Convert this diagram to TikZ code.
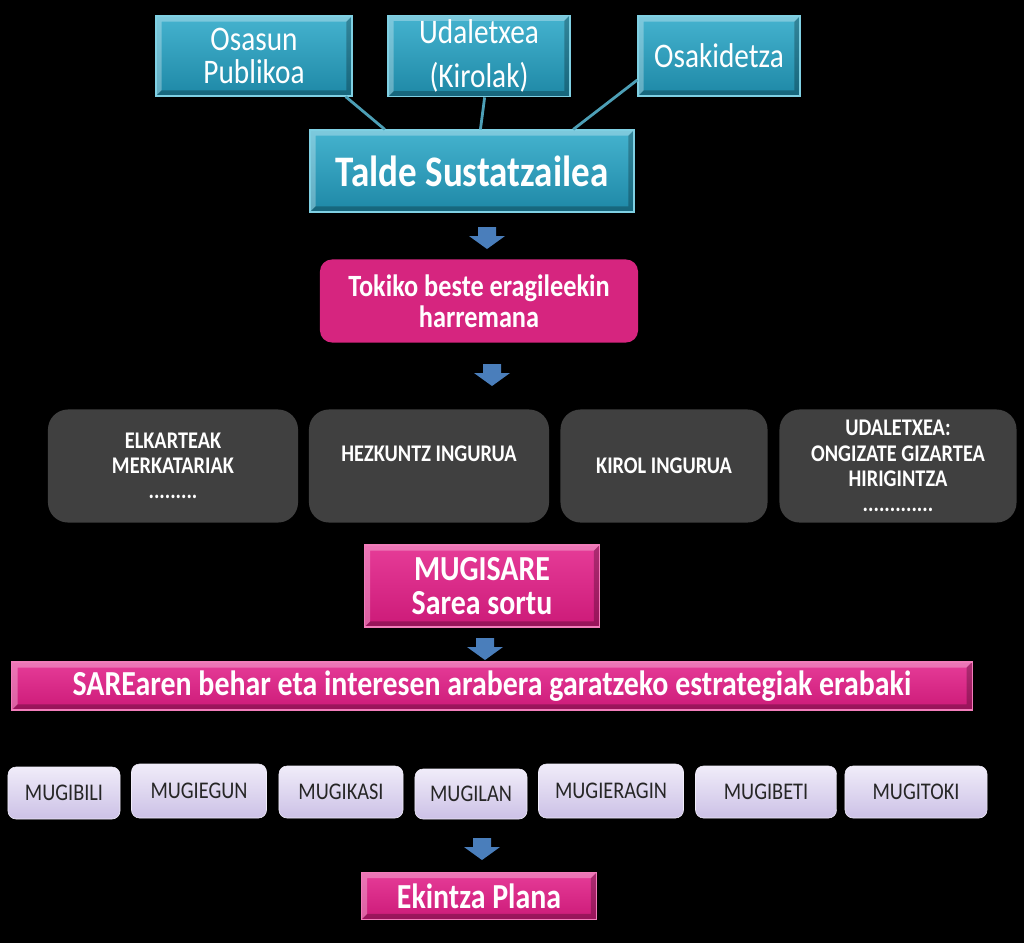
\documentclass[tikz,border=0pt]{standalone}
\usepackage{fontspec}
\setmainfont[FakeStretch=0.85]{Carlito}
\usepackage{xcolor}
\usetikzlibrary{positioning}
\usetikzlibrary{calc}

\definecolor{tealtop}{HTML}{45B3CF}
\definecolor{tealbot}{HTML}{1E88A6}
\definecolor{tealedge}{HTML}{7FD0E3}
\definecolor{tealline}{HTML}{4D9FB6}
\definecolor{magtop}{HTML}{E63C98}
\definecolor{magbot}{HTML}{CC1A78}
\definecolor{magedge}{HTML}{F27DBA}
\definecolor{magflat}{HTML}{D6257F}
\definecolor{greybox}{HTML}{404040}
\definecolor{lavtop}{HTML}{F0ECF9}
\definecolor{lavbot}{HTML}{CCC1E6}
\definecolor{arrowblue}{HTML}{4A7EBB}

\tikzset{
  bevel/.style={path picture={
    \coordinate (bnw) at (path picture bounding box.north west);
    \coordinate (bse) at (path picture bounding box.south east);
    \coordinate (bne) at (path picture bounding box.north east);
    \coordinate (bsw) at (path picture bounding box.south west);
    \fill[white, opacity=0.3] (bnw) -- (bne) -- ([shift={(-4pt,-4pt)}]bne) -- ([shift={(4pt,-4pt)}]bnw) -- ([shift={(4pt,4pt)}]bsw) -- (bsw) -- cycle;
    \fill[black, opacity=0.25] (bse) -- (bne) -- ([shift={(-4pt,-4pt)}]bne) -- ([shift={(-4pt,4pt)}]bse) -- ([shift={(4pt,4pt)}]bsw) -- (bsw) -- cycle;}},
  tealbox/.style={draw=tealedge, line width=0.8pt, top color=tealtop, bottom color=tealbot, bevel, text=white, align=center, minimum height=2cm},
  magbox/.style={draw=magedge, line width=0.8pt, top color=magtop, bottom color=magbot, bevel, text=white, align=center, font=\bfseries\fontsize{25}{24}\selectfont},
  greyround/.style={fill=greybox, rounded corners=0.5cm, text=white, align=center, minimum height=2.825cm, font=\bfseries\fontsize{17}{18}\selectfont},
  lavbox/.style={draw=lavtop, top color=lavtop, bottom color=lavbot, rounded corners=0.2cm, text=black!85, minimum height=1.3cm, font=\fontsize{17}{18}\selectfont},
  downarr/.pic={\fill[arrowblue] (-9,-11) -- (9,-11) -- (9,-2) -- (18,-2) -- (0,11) -- (-18,-2) -- (-9,-2) -- cycle;}
}

\begin{document}
\begin{tikzpicture}[x=0.025cm, y=-0.025cm]
\fill[black] (0,0) rectangle (1024,943);
\useasboundingbox (0,0) rectangle (1024,943);

% top group
\node[tealbox, minimum width=4.9cm, font=\fontsize{24.5}{24}\selectfont] (osasun) at (254,56) {Osasun\\Publikoa};
\node[tealbox, minimum width=4.55cm, font=\fontsize{24.5}{24}\selectfont] (udal) at (479,56) {Udaletxea\\[7pt](Kirolak)};
\node[tealbox, minimum width=4.05cm, font=\fontsize{24.5}{24}\selectfont] (osaki) at (719,56) {Osakidetza};
\node[tealbox, minimum width=8.1cm, minimum height=2.05cm, font=\bfseries\fontsize{31}{34}\selectfont] (talde) at (472,171) {Talde Sustatzailea};

\draw[tealline, line width=2pt] ([xshift=-5pt]osasun.south east) -- ([xshift=-62pt]talde.north);
\draw[tealline, line width=2pt] ([xshift=4pt]udal.south) -- ([xshift=6pt]talde.north);
\draw[tealline, line width=2pt] ([yshift=-17pt]osaki.west) -- ([xshift=72pt]talde.north);

\pic at (487,238) {downarr};
\node[fill=magflat, rounded corners=0.3cm, minimum width=7.95cm, minimum height=2.075cm, text=white, align=center, font=\bfseries\fontsize{22}{22}\selectfont] (tokiko) at (479,301) {Tokiko beste eragileekin\\harremana};
\pic at (492,375) {downarr};

% eragileak
\node[greyround, minimum width=6.25cm] (elkarte) at (173,466) {ELKARTEAK\\MERKATARIAK\\.........};
\node[greyround, minimum width=6cm] (hezkuntza) at (429,466) {HEZKUNTZ INGURUA\\~};
\node[greyround, minimum width=5.175cm] (kirol) at (664,466) {KIROL INGURUA};
\node[greyround, minimum width=5.925cm] (udaletxea) at (898,466) {UDALETXEA:\\ONGIZATE GIZARTEA\\HIRIGINTZA\\.............};

\node[magbox, minimum width=5.875cm, minimum height=2.05cm] (mugisare) at (482,586) {MUGISARE\\Sarea sortu};
\pic at (485,649) {downarr};
\node[magbox, minimum width=24cm, minimum height=1.2cm] (sare) at (492,686) {SAREaren behar eta interesen arabera garatzeko estrategiak erabaki};

% programak
\node[lavbox, minimum width=2.8cm] (mugibili) at (64,793) {MUGIBILI};
\node[lavbox, minimum width=3.375cm, minimum height=1.35cm] (mugiegun) at (199,791) {MUGIEGUN};
\node[lavbox, minimum width=3.1cm] (mugikasi) at (341,792) {MUGIKASI};
\node[lavbox, minimum width=2.8cm, minimum height=1.25cm] (mugilan) at (471,794) {MUGILAN};
\node[lavbox, minimum width=3.625cm, minimum height=1.35cm] (mugieragin) at (611,791) {MUGIERAGIN};
\node[lavbox, minimum width=3.525cm] (mugibeti) at (766,792) {MUGIBETI};
\node[lavbox, minimum width=3.55cm] (mugitoki) at (916,792) {MUGITOKI};

\pic at (482,849) {downarr};
\node[magbox, minimum width=5.875cm, minimum height=1.175cm] (ekintza) at (479,896) {Ekintza Plana};
\end{tikzpicture}
\end{document}
